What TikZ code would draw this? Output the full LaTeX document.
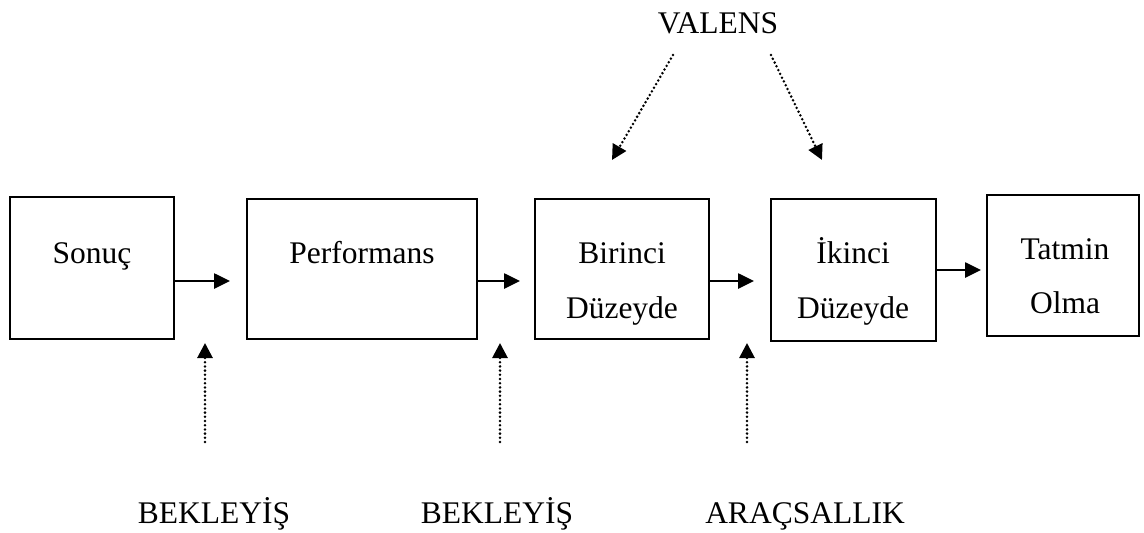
\documentclass[tikz,border=0pt]{standalone}
\usepackage{fontspec}
\setmainfont{Liberation Serif}
\usetikzlibrary{arrows.meta}
\begin{document}
\begin{tikzpicture}[x=1pt,y=-1pt,
  box/.style={draw,line width=2pt,inner sep=0pt},
  lbl/.style={anchor=base,inner sep=0pt,font=\fontsize{31.5}{37}\selectfont},
  flow/.style={line width=2.6pt,-{Triangle[length=16pt,width=15pt]}},
  infl/.style={line width=2.8pt,line cap=round,dash pattern=on 0pt off 4.2pt,
               -{Triangle[length=15pt,width=15pt]}}]
\useasboundingbox (0,0) rectangle (1144,533);

% process boxes
\node[box,minimum width=164pt,minimum height=142pt] (sonuc) at (92,268) {};
\node[box,minimum width=230pt,minimum height=140pt] (perf)  at (362,269) {};
\node[box,minimum width=174pt,minimum height=140pt] (bir)   at (622,269) {};
\node[box,minimum width=165pt,minimum height=142pt] (iki)   at (853.5,270) {};
\node[box,minimum width=152pt,minimum height=141pt] (tat)   at (1063,265.5) {};

% box labels
\node[lbl] (tsonuc) at (92,263)  {Sonuç};
\node[lbl] (tperf)  at (362,263) {Performans};
\node[lbl] (tbir1)  at (622,263) {Birinci};
\node[lbl] (tbir2)  at (622,318) {Düzeyde};
\node[lbl] (tiki1)  at (853,263) {İkinci};
\node[lbl] (tiki2)  at (853,318) {Düzeyde};
\node[lbl] (ttat1)  at (1065,259) {Tatmin};
\node[lbl] (ttat2)  at (1065,313) {Olma};

% outside factors
\node[lbl] (valens) at (718,33)  {VALENS};
\node[lbl] (bek1)   at (214,523) {BEKLEYİŞ};
\node[lbl] (bek2)   at (497,523) {BEKLEYİŞ};
\node[lbl] (arac)   at (805,523) {ARAÇSALLIK};

% main flow
\coordinate (f1) at (230,281);
\coordinate (f2) at (520,281);
\coordinate (f3) at (754,281);
\coordinate (f4) at (981,270);
\draw[flow] (sonuc.east |- f1) -- (f1);
\draw[flow] (perf.east |- f2)  -- (f2);
\draw[flow] (bir.east |- f3)   -- (f3);
\draw[flow] (iki.east |- f4)   -- (f4);

% dotted influences from below
\coordinate (b1s) at (205,442); \coordinate (b1e) at (205,343);
\coordinate (b2s) at (500,442); \coordinate (b2e) at (500,343);
\coordinate (b3s) at (747,442); \coordinate (b3e) at (747,343);
\draw[infl] (b1s) -- (b1e);
\draw[infl] (b2s) -- (b2e);
\draw[infl] (b3s) -- (b3e);

% dotted influences of valence
\coordinate (v1s) at (673,55); \coordinate (v1e) at (612,160);
\coordinate (v2s) at (771,55); \coordinate (v2e) at (822,160);
\draw[infl] (v1s) -- (v1e);
\draw[infl] (v2s) -- (v2e);
\end{tikzpicture}
\end{document}
